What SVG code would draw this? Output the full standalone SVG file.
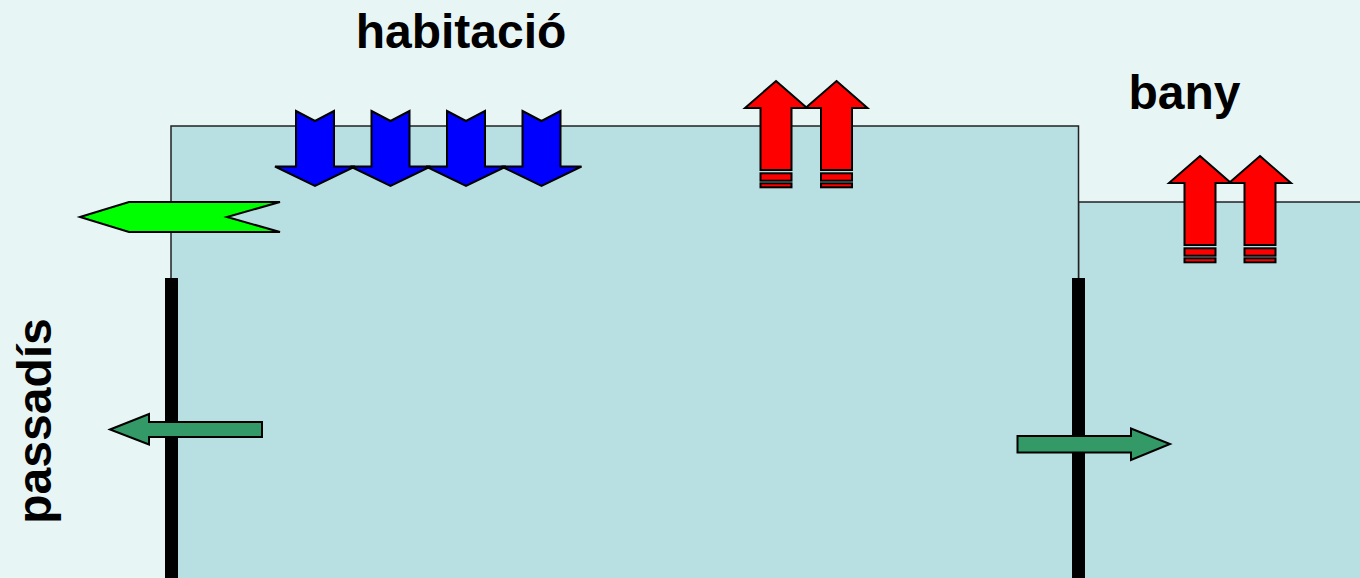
<svg xmlns="http://www.w3.org/2000/svg" xmlns:xlink="http://www.w3.org/1999/xlink" width="1360" height="578" viewBox="0 0 1360 578">
<style>
.room{fill:#B8DFE2;stroke:#222;stroke-width:1.5}
.wall{fill:#000}
.ar{stroke:#000;stroke-width:2;stroke-linejoin:miter}
.blue{fill:#0000FF}
.red{fill:#FF0000}
.lime{fill:#00FF00}
.dg{fill:#339966}
.lbl{font-family:"Liberation Sans",Arial,sans-serif;font-weight:bold;font-size:48px;fill:#000}
</style>
<defs>
<g id="down">
<polygon class="ar blue" points="-19,-56 0,-46 19,-56 19,-0.5 40,-0.5 0,19 -40,-0.5 -19,-0.5"/>
</g>
<g id="up">
<polygon class="ar red" points="0,0 31,27 15.5,27 15.5,89 -15.5,89 -15.5,27 -31,27"/>
<rect class="ar red" x="-15.5" y="92.3" width="31" height="7.4"/>
<rect class="ar red" x="-15.5" y="102.3" width="31" height="4"/>
</g>
</defs>
<rect width="1360" height="578" fill="#E8F5F5"/>
<g id="bany">
<rect class="room" x="1078.5" y="202" width="290" height="390"/>
<text class="lbl" x="1184.5" y="109" text-anchor="middle">bany</text>
</g>
<g id="habitacio">
<rect class="room" x="171" y="126" width="907.5" height="466"/>
<text class="lbl" x="461" y="48" text-anchor="middle">habitació</text>
</g>
<g id="passadis">
<text class="lbl" transform="translate(51,421) rotate(-90)" text-anchor="middle">passadís</text>
</g>
<g id="walls">
<rect class="wall" x="165" y="278" width="13" height="300"/>
<rect class="wall" x="1072" y="278" width="13" height="300"/>
</g>
<g id="connectors">
<use xlink:href="#down" x="315" y="167"/>
<use xlink:href="#down" x="390.5" y="167"/>
<use xlink:href="#down" x="466" y="167"/>
<use xlink:href="#down" x="541.5" y="167"/>
<use xlink:href="#up" x="776" y="81"/>
<use xlink:href="#up" x="836.5" y="81"/>
<use xlink:href="#up" x="1200" y="156"/>
<use xlink:href="#up" x="1260" y="156"/>
<polygon class="ar lime" points="80,217 129,202 280,202 227,217 280,232 129,232"/>
<polygon class="ar dg" points="110,429.5 149,414 149,422 262,422 262,437 149,437 149,444.5"/>
<polygon class="ar dg" points="1017.5,436 1131,436 1131,428.5 1170,444 1131,460 1131,452.5 1017.5,452.5"/>
</g>
</svg>
